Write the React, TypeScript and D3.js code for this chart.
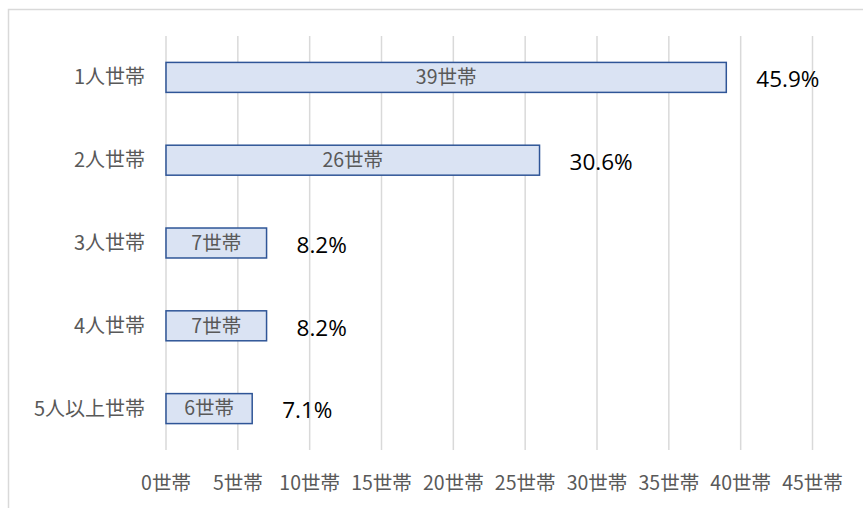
import React from "react";
import * as d3 from "d3";

const categories = ["1人世帯", "2人世帯", "3人世帯", "4人世帯", "5人以上世帯"];
const counts = [39, 26, 7, 7, 6];
const percents = ["45.9%", "30.6%", "8.2%", "8.2%", "7.1%"];
const tickValues = [0, 5, 10, 15, 20, 25, 30, 35, 40, 45];
const unit = "世帯";

const W = 863;
const H = 508;
const left = 166;
const right = 812.5;
const top = 36;
const bottom = 450;

export default function App() {
  const x = d3.scaleLinear().domain([0, 45]).range([left, right]);
  const y = d3.scaleBand<string>().domain(categories).range([top, bottom]).paddingInner(0.638).paddingOuter(0.319);
  const font = "'Noto Sans CJK JP', 'Noto Sans', sans-serif";
  return (
    <svg width={W} height={H} style={{ position: "absolute", left: 0, top: 0, background: "#fff" }}>
      <rect x={8.5} y={9.5} width={W + 10} height={H + 10} fill="#fff" stroke="#d9d9d9" strokeWidth={1.5} />
      {tickValues.map((t) => (
        <g key={t}>
          <line x1={x(t)} x2={x(t)} y1={top} y2={bottom} stroke="#d9d9d9" strokeWidth={1.5} />
          <text x={x(t)} y={483} dy="0.35em" textAnchor="middle" fontFamily={font} fontSize={19.5} fill="#595959">
            {t + unit}
          </text>
        </g>
      ))}
      {categories.map((c, i) => {
        const by = y(c)!;
        const bh = y.bandwidth();
        const cy = by + bh / 2;
        return (
          <g key={c}>
            <text x={145} y={cy} dy="0.35em" textAnchor="end" fontFamily={font} fontSize={20} fill="#595959">
              {c}
            </text>
            <rect x={x(0)} y={by} width={x(counts[i]) - x(0)} height={bh} fill="#dae3f3" stroke="#2f5597" strokeWidth={1.5} />
            <text x={(x(0) + x(counts[i])) / 2} y={cy} dy="0.35em" textAnchor="middle" fontFamily={font} fontSize={19.5} fill="#595959">
              {counts[i] + unit}
            </text>
            <text x={x(counts[i]) + 30} y={cy + 2} dy="0.35em" textAnchor="start" fontFamily="'Open Sans', 'Liberation Sans', sans-serif" fontSize={22.5} fill="#000">
              {percents[i]}
            </text>
          </g>
        );
      })}
    </svg>
  );
}
